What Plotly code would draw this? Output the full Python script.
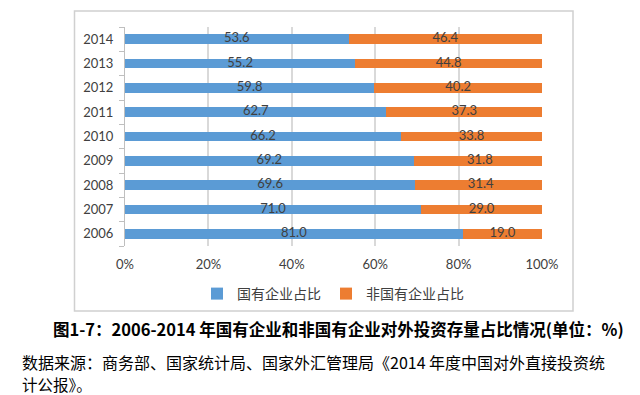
import plotly.graph_objects as go

years = ["2006", "2007", "2008", "2009", "2010", "2011", "2012", "2013", "2014"]
soe_share = [81.0, 71.0, 69.6, 69.2, 66.2, 62.7, 59.8, 55.2, 53.6]
non_soe_share = [19.0, 29.0, 31.4, 31.8, 33.8, 37.3, 40.2, 44.8, 46.4]
series_names = ["国有企业占比", "非国有企业占比"]
x_ticks = [0, 20, 40, 60, 80, 100]
x_tick_labels = ["0%", "20%", "40%", "60%", "80%", "100%"]
caption_title = "图1-7：2006-2014 年国有企业和非国有企业对外投资存量占比情况(单位：%)"
caption_src1 = "数据来源：商务部、国家统计局、国家外汇管理局《2014 年度中国对外直接投资统"
caption_src2 = "计公报》。"

W, H = 640, 395
L, R, T, B = 125, 542, 27, 246
pw, ph = R - L, B - T

def px(x):
    return (x - L) / pw

def py(y):
    return (B - y) / ph

num_font = "Lato, Carlito, 'Liberation Sans', sans-serif"
cjk_font = "'Noto Sans CJK SC', sans-serif"

fig = go.Figure()
colors = ["#5B9BD5", "#ED7D31"]
for name, vals, col in zip(series_names, [soe_share, non_soe_share], colors):
    fig.add_trace(go.Bar(
        y=years, x=vals, name=name, orientation="h",
        marker=dict(color=col, line=dict(width=0)),
        textposition="none",
    ))

# data labels centred in each stacked segment
starts = [[0.0] * len(years), soe_share]
for vals, st in zip([soe_share, non_soe_share], starts):
    fig.add_trace(go.Scatter(
        y=years, x=[s + v / 2 for s, v in zip(st, vals)],
        mode="text", text=[f"{v:.1f}" for v in vals],
        textposition="middle center",
        textfont=dict(family=num_font, size=13, color="#404040"),
        showlegend=False, hoverinfo="skip", cliponaxis=False,
    ))

fig.update_layout(
    barmode="stack",
    bargap=0.6,
    width=W, height=H,
    margin=dict(l=L, r=W - R, t=T, b=H - B, autoexpand=False),
    paper_bgcolor="white",
    plot_bgcolor="white",
    showlegend=True,
    legend=dict(orientation="h", x=px(333), y=py(294), xanchor="center", yanchor="middle",
                font=dict(family=cjk_font, size=14, color="#404040"),
                bgcolor="rgba(0,0,0,0)", traceorder="normal"),
    xaxis=dict(range=[0, 100], tickvals=x_ticks, ticktext=x_tick_labels,
               showgrid=True, gridcolor="#D9D9D9", gridwidth=1.5,
               zeroline=False, showline=False, ticks="",
               ticklabelstandoff=9,
               tickfont=dict(family=num_font, size=13, color="#404040")),
    yaxis=dict(type="category", categoryorder="array", categoryarray=years,
               showline=True, linecolor="#BFBFBF", linewidth=1,
               ticks="outside", tickson="boundaries", ticklen=5, tickcolor="#BFBFBF",
               ticklabelstandoff=8,
               showgrid=False,
               tickfont=dict(family=num_font, size=13, color="#404040")),
    font=dict(family=cjk_font),
)

# chart frame
fig.add_shape(type="rect", xref="paper", yref="paper",
              x0=px(74.5), x1=px(573), y0=py(311), y1=py(11),
              line=dict(color="#D0D0D0", width=1.5), fillcolor="rgba(0,0,0,0)", layer="below")

fig.add_annotation(text="<b>" + caption_title + "</b>", xref="paper", yref="paper",
                   x=px(338), y=py(329), xanchor="center", yanchor="middle", showarrow=False,
                   font=dict(family=cjk_font, size=16.5, color="#000000"))
fig.add_annotation(text=caption_src1, xref="paper", yref="paper",
                   x=px(20), y=py(362), xanchor="left", yanchor="middle", showarrow=False,
                   font=dict(family=cjk_font, size=16, color="#000000"))
fig.add_annotation(text=caption_src2, xref="paper", yref="paper",
                   x=px(20), y=py(384), xanchor="left", yanchor="middle", showarrow=False,
                   font=dict(family=cjk_font, size=15.5, color="#000000"))

fig.write_html("out.html", config={"displayModeBar": False},
               post_script="document.body.style.margin='0';document.body.style.overflow='hidden';")
